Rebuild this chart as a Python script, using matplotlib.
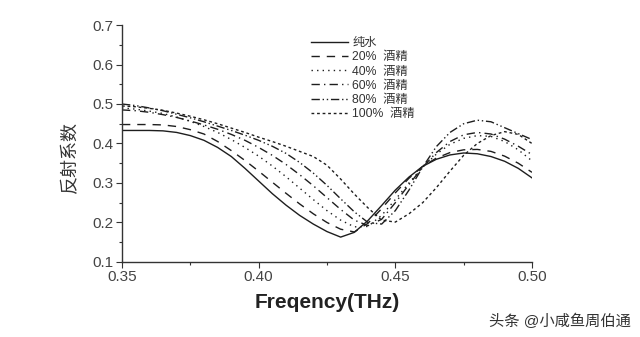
import numpy as np
import matplotlib
matplotlib.use("Agg")
import matplotlib.pyplot as plt
from matplotlib.ticker import FixedLocator

plt.rcParams['font.family'] = ['Liberation Sans', 'Noto Sans CJK SC', 'DejaVu Sans']

# frequency axis, THz
freq = np.round(np.arange(0.350, 0.5001, 0.005), 3)

water = [0.433, 0.433, 0.433, 0.432, 0.428, 0.420, 0.408, 0.390, 0.367, 0.337,
         0.305, 0.273, 0.244, 0.218, 0.196, 0.177, 0.163, 0.175, 0.205, 0.243,
         0.282, 0.315, 0.342, 0.360, 0.371, 0.376, 0.374, 0.367, 0.355, 0.337, 0.313]
alc20 = [0.448, 0.448, 0.448, 0.447, 0.443, 0.435, 0.424, 0.405, 0.382, 0.357,
         0.330, 0.302, 0.274, 0.247, 0.222, 0.200, 0.183, 0.176, 0.198, 0.235,
         0.275, 0.312, 0.342, 0.363, 0.377, 0.384, 0.385, 0.380, 0.368, 0.350, 0.327]
alc40 = [0.490, 0.487, 0.482, 0.476, 0.467, 0.456, 0.443, 0.428, 0.410, 0.390,
         0.368, 0.343, 0.316, 0.287, 0.258, 0.230, 0.206, 0.189, 0.190, 0.218,
         0.258, 0.300, 0.340, 0.373, 0.398, 0.413, 0.420, 0.418, 0.405, 0.384, 0.356]
alc60 = [0.485, 0.483, 0.479, 0.473, 0.466, 0.457, 0.447, 0.436, 0.423, 0.408,
         0.390, 0.370, 0.347, 0.321, 0.293, 0.263, 0.233, 0.206, 0.192, 0.208,
         0.250, 0.296, 0.340, 0.377, 0.405, 0.422, 0.428, 0.424, 0.411, 0.393, 0.372]
alc80 = [0.500, 0.496, 0.490, 0.483, 0.474, 0.465, 0.455, 0.444, 0.433, 0.421,
         0.408, 0.393, 0.375, 0.352, 0.325, 0.294, 0.260, 0.227, 0.200, 0.196,
         0.230, 0.282, 0.340, 0.392, 0.428, 0.450, 0.459, 0.455, 0.440, 0.425, 0.410]
alc100 = [0.495, 0.493, 0.489, 0.484, 0.477, 0.469, 0.460, 0.450, 0.439, 0.428,
          0.416, 0.405, 0.393, 0.380, 0.367, 0.345, 0.310, 0.272, 0.237, 0.206,
          0.201, 0.222, 0.250, 0.288, 0.330, 0.370, 0.400, 0.420, 0.430, 0.423, 0.400]

labels = ['纯水', '20%  酒精', '40%  酒精', '60%  酒精', '80%  酒精', '100%  酒精']
styles = ['-', (0, (6, 5)), (0, (1, 3)), (0, (6, 3, 1, 3)),
          (0, (6, 2, 1, 2, 1, 2)), (0, (2, 2))]
series = [water, alc20, alc40, alc60, alc80, alc100]

xticks = [0.35, 0.40, 0.45, 0.50]
yticks = [0.1, 0.2, 0.3, 0.4, 0.5, 0.6, 0.7]

fig = plt.figure(figsize=(6.4, 3.37), dpi=100)
ax = fig.add_axes([0.1906, 0.2226, 0.6406, 0.7032])

for y, ls, lab in zip(series, styles, labels):
    ax.plot(freq, y, color='#1e1e1e', lw=1.0, linestyle=ls, label=lab)

ax.set_xlim(0.35, 0.50)
ax.set_ylim(0.1, 0.7)
ax.xaxis.set_major_locator(FixedLocator(xticks))
ax.xaxis.set_minor_locator(FixedLocator([0.375, 0.425, 0.475]))
ax.yaxis.set_major_locator(FixedLocator(yticks))
ax.yaxis.set_minor_locator(FixedLocator([0.15, 0.25, 0.35, 0.45, 0.55, 0.65]))
ax.set_xticklabels([f'{v:.2f}' for v in xticks])
ax.set_yticklabels([f'{v:.1f}' for v in yticks])

for s in ['top', 'right']:
    ax.spines[s].set_visible(False)
for s in ['left', 'bottom']:
    ax.spines[s].set_color('#333333')
    ax.spines[s].set_linewidth(1.0)

ax.tick_params(which='major', direction='out', length=4, width=0.8,
               color='#333333', labelsize=11, labelcolor='#444444', pad=2)
ax.tick_params(which='minor', direction='out', length=2, width=0.8, color='#333333')

ax.set_xlabel('Freqency(THz)', fontsize=15, fontweight='bold', color='#222222',
              labelpad=6)
fig.text(0.11, 0.535, '反射系数', rotation=90, fontsize=13, color='#333333',
         ha='center', va='center')

leg = ax.legend(loc='upper left', bbox_to_anchor=(0.44, 0.985), frameon=False,
                fontsize=8.8, handlelength=3.0, handletextpad=0.4,
                labelspacing=0.18, borderpad=0.2)
for t in leg.get_texts():
    t.set_color('#333333')

fig.text(0.985, 0.045, '头条 @小咸鱼周伯通', fontsize=11, color='#333333',
         ha='right', va='center')

fig.savefig('out.png', dpi=100, facecolor='white')
